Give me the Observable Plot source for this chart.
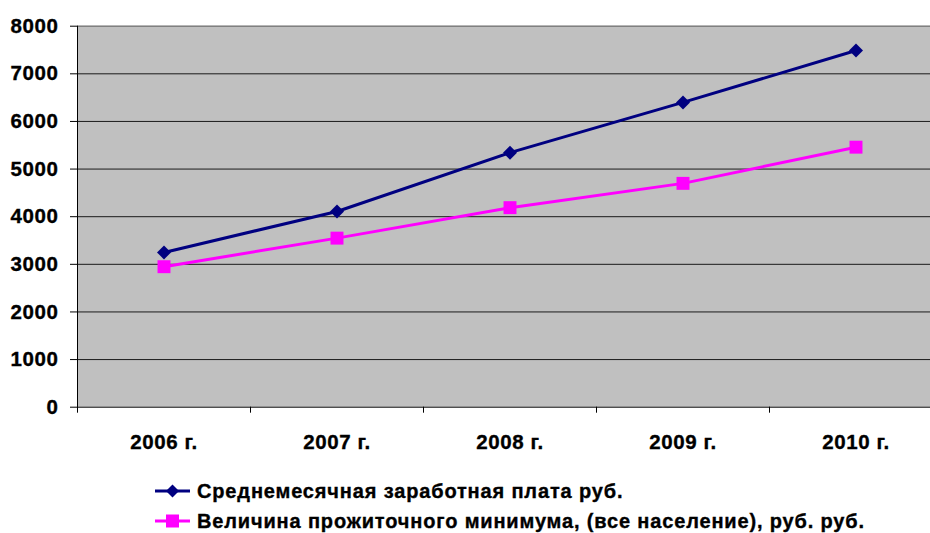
<!DOCTYPE html>
<html>
<head>
<meta charset="utf-8">
<script src="https://cdn.jsdelivr.net/npm/d3@7"></script>
<script src="https://cdn.jsdelivr.net/npm/@observablehq/plot@0.6"></script>
<style>
  html, body { margin: 0; padding: 0; background: #fff; overflow: hidden; }
  #wrap { position: relative; width: 930px; height: 533px; }
  #wrap svg text { stroke: #000; stroke-width: 0.35px; }
  .legend { position: absolute; left: 155px; top: 476px; font-family: "Liberation Sans", Arial, sans-serif; font-weight: bold; font-size: 20px; letter-spacing: 0.85px; color: #000; -webkit-text-stroke: 0.35px #000; }
  .legend .row { display: flex; align-items: center; height: 30px; }
  .legend svg { margin-right: 7px; }
</style>
</head>
<body>
<div id="wrap"></div>
<script>
const years = ["2006 г.", "2007 г.", "2008 г.", "2009 г.", "2010 г."];
const salary = [3250, 4110, 5345, 6400, 7490];
const minimum = [2950, 3550, 4190, 4700, 5460];
const seriesNames = ["Среднемесячная заработная плата руб.", "Величина прожиточного минимума, (все население), руб. руб."];
const seriesColors = ["#000080", "#FF00FF"];
const yTicks = [0, 1000, 2000, 3000, 4000, 5000, 6000, 7000, 8000];

const salaryData = years.map((y, i) => ({year: y, value: salary[i]}));
const minData = years.map((y, i) => ({year: y, value: minimum[i]}));

const plot = Plot.plot({
  width: 930,
  height: 460,
  marginLeft: 77,
  marginRight: 0,
  marginTop: 25.7,
  marginBottom: 53.3,
  style: {fontFamily: "'Liberation Sans', Arial, sans-serif", fontSize: "20.5px", fontWeight: "bold", background: "#fff", color: "#000", letterSpacing: "0.6px"},
  x: {type: "band", domain: years, range: [77, 942], padding: 0},
  y: {domain: [0, 8000], ticks: yTicks},
  marks: [
    Plot.barY(years, {x: d => d, y1: 0, y2: () => 8000, fill: "#C0C0C0", inset: 0}),
    Plot.ruleY(yTicks.filter(v => v > 0 && v < 8000), {stroke: "#1a1a1a", strokeWidth: 1}),
    Plot.ruleY([8000], {stroke: "#808080", strokeWidth: 1.6}),
    Plot.frame({anchor: "left", stroke: "#000", strokeWidth: 1}),
    Plot.ruleY([0], {stroke: "#000", strokeWidth: 1}),
    Plot.line(salaryData, {x: "year", y: "value", stroke: seriesColors[0], strokeWidth: 3}),
    Plot.line(minData, {x: "year", y: "value", stroke: seriesColors[1], strokeWidth: 3}),
    Plot.dot(salaryData, {x: "year", y: "value", symbol: "diamond2", r: 6.3, fill: seriesColors[0], stroke: "none"}),
    Plot.dot(minData, {x: "year", y: "value", symbol: "square", r: 7.3, fill: seriesColors[1], stroke: "none"}),
    Plot.axisY({ticks: yTicks, tickSize: 7, tickPadding: 12, label: null, tickFormat: d => String(d)}),
    Plot.axisX({tickSize: 6, tickPadding: 0, dx: -86.5, tickFormat: () => "", label: null}),
    Plot.axisX({tickSize: 0, tickPadding: 27.5, label: null})
  ]
});

const wrap = document.getElementById("wrap");
wrap.appendChild(plot);

const legend = document.createElement("div");
legend.className = "legend";
const symbols = [
  `<polygon points="17.5,-6.5 24,0 17.5,6.5 11,0" fill="${seriesColors[0]}"/>`,
  `<rect x="11" y="-6.5" width="13" height="13" fill="${seriesColors[1]}"/>`
];
seriesNames.forEach((name, i) => {
  const row = document.createElement("div");
  row.className = "row";
  row.innerHTML = `<svg width="35" height="16" viewBox="0 -8 35 16"><line x1="0" y1="0" x2="35" y2="0" stroke="${seriesColors[i]}" stroke-width="3"/>${symbols[i]}</svg><span>${name}</span>`;
  legend.appendChild(row);
});
wrap.appendChild(legend);
</script>
</body>
</html>
